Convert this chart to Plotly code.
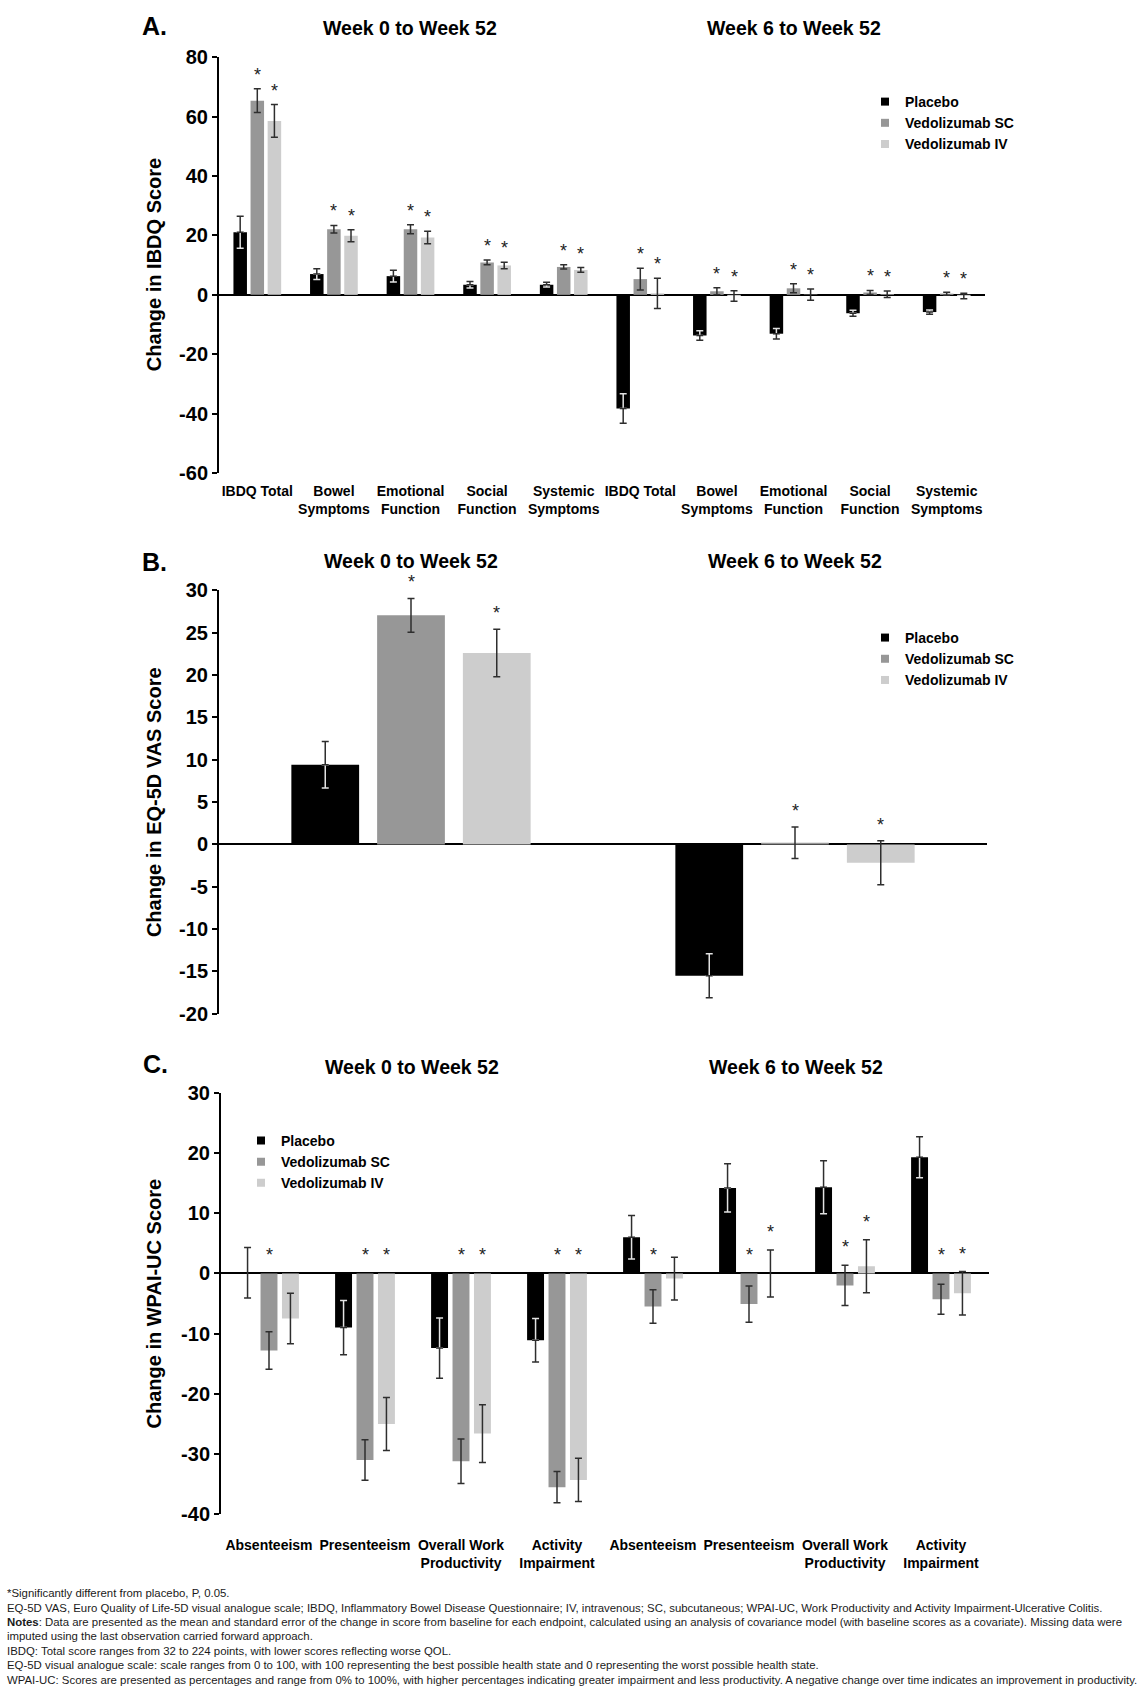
import plotly.graph_objects as go

W, H = 1139, 1695
FONT = "Liberation Sans, Arial, sans-serif"

series_names = ["Placebo", "Vedolizumab SC", "Vedolizumab IV"]
series_colors = ["#000000", "#979797", "#cdcdcd"]
ERR_DARK = "#2e2e2e"
ERR_LIGHT = "#e2e2e2"

# ---------------- Panel A: IBDQ ----------------
cats_A = ["IBDQ Total", "Bowel<br>Symptoms", "Emotional<br>Function", "Social<br>Function", "Systemic<br>Symptoms",
          "IBDQ Total", "Bowel<br>Symptoms", "Emotional<br>Function", "Social<br>Function", "Systemic<br>Symptoms"]
placebo_A = [21.1, 7.0, 6.3, 3.4, 3.4, -38.3, -13.7, -13.1, -6.2, -5.8]
placebo_A_err = [5.4, 1.8, 2.0, 1.1, 0.8, 5.0, 1.6, 1.8, 1.0, 0.7]
sc_A = [65.4, 22.1, 22.1, 10.9, 9.4, 5.3, 1.2, 2.2, 0.8, 0.4]
sc_A_err = [4.0, 1.3, 1.5, 0.8, 0.7, 3.7, 1.2, 1.5, 0.7, 0.5]
iv_A = [58.6, 19.9, 19.3, 9.9, 8.4, 0.5, -0.4, 0.1, 0.2, -0.4]
iv_A_err = [5.5, 2.0, 2.1, 1.1, 0.8, 5.1, 1.8, 1.9, 1.1, 0.9]
star_sc_A = [True] * 10
star_iv_A = [True] * 10
yticks_A = [80, 60, 40, 20, 0, -20, -40, -60]

# ---------------- Panel B: EQ-5D VAS ----------------
cats_B = ["Week 0 to Week 52", "Week 6 to Week 52"]
placebo_B = [9.4, -15.5]
placebo_B_err = [2.75, 2.6]
sc_B = [27.05, 0.2]
sc_B_err = [2.0, 1.85]
iv_B = [22.6, -2.15]
iv_B_err = [2.8, 2.6]
star_sc_B = [True, True]
star_iv_B = [True, True]
yticks_B = [30, 25, 20, 15, 10, 5, 0, -5, -10, -15, -20]

# ---------------- Panel C: WPAI-UC ----------------
cats_C = ["Absenteeism", "Presenteeism", "Overall Work<br>Productivity", "Activity<br>Impairment",
          "Absenteeism", "Presenteeism", "Overall Work<br>Productivity", "Activity<br>Impairment"]
placebo_C = [0.1, -9.0, -12.4, -11.1, 6.0, 14.2, 14.3, 19.3]
placebo_C_err = [4.2, 4.5, 5.0, 3.6, 3.6, 4.0, 4.4, 3.4]
sc_C = [-12.8, -31.0, -31.2, -35.5, -5.5, -5.1, -2.0, -4.3]
sc_C_err = [3.1, 3.35, 3.7, 2.6, 2.8, 3.0, 3.35, 2.5]
iv_C = [-7.5, -25.0, -26.6, -34.3, -0.85, 0.0, 1.2, -3.3]
iv_C_err = [4.2, 4.4, 4.8, 3.6, 3.55, 3.9, 4.4, 3.6]
star_sc_C = [True] * 8
star_iv_C = [False, True, True, True, False, True, True, True]
yticks_C = [30, 20, 10, 0, -10, -20, -30, -40]

period_titles = ["Week 0 to Week 52", "Week 6 to Week 52"]
panel_letters = ["A.", "B.", "C."]
y_titles = ["Change in IBDQ Score", "Change in EQ-5D VAS Score", "Change in WPAI-UC Score"]

footnotes = [
    "*Significantly different from placebo, P, 0.05.",
    "EQ-5D VAS, Euro Quality of Life-5D visual analogue scale; IBDQ, Inflammatory Bowel Disease Questionnaire; IV, intravenous; SC, subcutaneous; WPAI-UC, Work Productivity and Activity Impairment-Ulcerative Colitis.",
    "<b>Notes</b>: Data are presented as the mean and standard error of the change in score from baseline for each endpoint, calculated using an analysis of covariance model (with baseline scores as a covariate). Missing data were",
    "imputed using the last observation carried forward approach.",
    "IBDQ: Total score ranges from 32 to 224 points, with lower scores reflecting worse QOL.",
    "EQ-5D visual analogue scale: scale ranges from 0 to 100, with 100 representing the best possible health state and 0 representing the worst possible health state.",
    "WPAI-UC: Scores are presented as percentages and range from 0% to 100%, with higher percentages indicating greater impairment and less productivity. A negative change over time indicates an improvement in productivity.",
]

BARGAP = 0.33
BARGROUPGAP = 0.21


def fx(px):
    return px / W


def fy(py):
    return 1 - py / H


fig = go.Figure()
annotations = []


def add_panel(idx, n, placebo, placebo_err, sc, sc_err, iv, iv_err, star_sc, star_iv, legend_id, star_shift):
    xa = "x" if idx == 1 else f"x{idx}"
    ya = "y" if idx == 1 else f"y{idx}"
    xs = list(range(n))
    # placebo bar
    fig.add_trace(go.Bar(x=xs, y=placebo, marker=dict(color=series_colors[0], line=dict(width=0)),
                         offsetgroup="P", xaxis=xa, yaxis=ya, showlegend=False, hoverinfo="skip"))
    # error bars of placebo: light part inside the black bar, dark part outside
    light_y, light_p, light_m = [], [], []
    dark_p, dark_m = [], []
    for v, e in zip(placebo, placebo_err):
        if e < abs(v):
            light_y.append(v)
            light_p.append(0 if v > 0 else e)
            light_m.append(e if v > 0 else 0)
            dark_p.append(e if v > 0 else 0)
            dark_m.append(0 if v > 0 else e)
        else:
            light_y.append(None)
            light_p.append(0)
            light_m.append(0)
            dark_p.append(e)
            dark_m.append(e)
    fig.add_trace(go.Bar(x=xs, y=light_y, marker=dict(color="rgba(0,0,0,0)", line=dict(width=0)),
                         offsetgroup="P", xaxis=xa, yaxis=ya, showlegend=False, hoverinfo="skip",
                         error_y=dict(type="data", symmetric=False, array=light_p, arrayminus=light_m,
                                      color=ERR_LIGHT, thickness=1.5, width=3.5)))
    fig.add_trace(go.Bar(x=xs, y=placebo, marker=dict(color="rgba(0,0,0,0)", line=dict(width=0)),
                         offsetgroup="P", xaxis=xa, yaxis=ya, showlegend=False, hoverinfo="skip",
                         error_y=dict(type="data", symmetric=False, array=dark_p, arrayminus=dark_m,
                                      color=ERR_DARK, thickness=1.5, width=3.5)))
    for k, (vals, errs, og) in enumerate([(sc, sc_err, "S"), (iv, iv_err, "I")], start=1):
        fig.add_trace(go.Bar(x=xs, y=vals, marker=dict(color=series_colors[k], line=dict(width=0)),
                             offsetgroup=og, xaxis=xa, yaxis=ya, showlegend=False, hoverinfo="skip",
                             error_y=dict(type="data", array=errs, color=ERR_DARK, thickness=1.5, width=3.5)))
    # legend entries (small square markers)
    for k in range(3):
        fig.add_trace(go.Scatter(x=[None], y=[None], mode="markers", name=series_names[k],
                                 marker=dict(symbol="square", size=8, color=series_colors[k]),
                                 xaxis=xa, yaxis=ya, legend=legend_id, showlegend=True))
    # asterisks
    slot = (1 - BARGAP) / 3
    for k, (vals, errs, stars) in enumerate([(sc, sc_err, star_sc), (iv, iv_err, star_iv)], start=1):
        for i, (v, e, s) in enumerate(zip(vals, errs, stars)):
            if s:
                annotations.append(dict(x=i + (k - 1) * slot, y=max(v + e, 0), xref=xa, yref=ya,
                                        text="*", showarrow=False, yanchor="bottom", yshift=star_shift,
                                        font=dict(family=FONT, size=18, color="#222222")))


add_panel(1, 10, placebo_A, placebo_A_err, sc_A, sc_A_err, iv_A, iv_A_err, star_sc_A, star_iv_A, "legend", 2)
add_panel(2, 2, placebo_B, placebo_B_err, sc_B, sc_B_err, iv_B, iv_B_err, star_sc_B, star_iv_B, "legend2", 4)
add_panel(3, 8, placebo_C, placebo_C_err, sc_C, sc_C_err, iv_C, iv_C_err, star_sc_C, star_iv_C, "legend3", 6)

# geometry of each panel (pixels)
panels = [
    dict(x0=219, x1=985, top=47, bottom=468, rng=[-60, 80], yticks=yticks_A, ticktext=cats_A, n=10, standoff=8),
    dict(x0=219, x1=987, top=587, bottom=1016, rng=[-20, 30], yticks=yticks_B, ticktext=None, n=2, standoff=8),
    dict(x0=221, x1=989, top=1096, bottom=1523, rng=[-40, 30], yticks=yticks_C, ticktext=cats_C, n=8, standoff=21),
]

layout_axes = {}
for j, p in enumerate(panels, start=1):
    xk = "xaxis" if j == 1 else f"xaxis{j}"
    yk = "yaxis" if j == 1 else f"yaxis{j}"
    xa = "x" if j == 1 else f"x{j}"
    ya = "y" if j == 1 else f"y{j}"
    layout_axes[xk] = dict(domain=[fx(p["x0"]), fx(p["x1"])], range=[-0.5, p["n"] - 0.5], anchor=ya,
                           tickmode="array", tickvals=list(range(p["n"])),
                           ticktext=p["ticktext"] if p["ticktext"] else [""] * p["n"],
                           showticklabels=p["ticktext"] is not None,
                           tickangle=0, showline=False, showgrid=False, zeroline=False, ticks="",
                           ticklabelstandoff=p["standoff"],
                           tickfont=dict(family=FONT, size=14, color="black", weight="bold"),
                           fixedrange=True)
    layout_axes[yk] = dict(domain=[fy(p["bottom"]), fy(p["top"])], range=p["rng"], anchor=xa,
                           tickmode="array", tickvals=p["yticks"], ticktext=[str(t) for t in p["yticks"]],
                           showline=True, linecolor="black", linewidth=2,
                           ticks="outside", ticklen=5, tickwidth=2, tickcolor="black",
                           tickfont=dict(family=FONT, size=20, color="black", weight="bold"),
                           zeroline=True, zerolinecolor="black", zerolinewidth=2,
                           showgrid=False, fixedrange=True)
    # y-axis title
    annotations.append(dict(x=fx(154), y=fy((p["top"] + p["bottom"]) / 2), xref="paper", yref="paper",
                            text=y_titles[j - 1], textangle=-90, showarrow=False,
                            xanchor="center", yanchor="middle",
                            font=dict(family=FONT, size=20, color="black", weight="bold")))

# panel letters and period headings
letter_pos = [(140, 15), (140, 558), (141, 1067)]
heading_pos = [((410, 17), (794, 17)), ((411, 557), (795, 557)), ((412, 1070), (796, 1070))]
for j in range(3):
    lx, ly = letter_pos[j]
    annotations.append(dict(x=fx(lx), y=fy(ly), xref="paper", yref="paper", text=panel_letters[j],
                            showarrow=False, xanchor="left", yanchor="middle",
                            font=dict(family=FONT, size=25, color="black", weight="bold")))
    for (hx, hy), t in zip(heading_pos[j], period_titles):
        annotations.append(dict(x=fx(hx), y=fy(hy), xref="paper", yref="paper", text=t,
                                showarrow=False, xanchor="center", yanchor="middle",
                                font=dict(family=FONT, size=19.5, color="black", weight="bold")))

# footnotes
for i, line in enumerate(footnotes):
    annotations.append(dict(x=fx(5), y=fy(1603 + i * 14.6), xref="paper", yref="paper", text=line,
                            showarrow=False, xanchor="left", yanchor="middle",
                            font=dict(family=FONT, size=11.4, color="#1a1a1a")))

legend_common = dict(bgcolor="rgba(0,0,0,0)", borderwidth=0, xanchor="left", yanchor="top",
                     font=dict(family=FONT, size=14, color="black", weight="bold"),
                     itemclick=False, itemdoubleclick=False, tracegroupgap=0)

fig.update_layout(
    width=W, height=H,
    margin=dict(l=0, r=0, t=0, b=0),
    paper_bgcolor="white", plot_bgcolor="white",
    barmode="group", bargap=BARGAP, bargroupgap=BARGROUPGAP,
    font=dict(family=FONT, color="black"),
    annotations=annotations,
    legend=dict(x=fx(865), y=fy(76), **legend_common),
    legend2=dict(x=fx(865), y=fy(619), **legend_common),
    legend3=dict(x=fx(241), y=fy(1128.5), **legend_common),
    **layout_axes,
)

fig.write_html("out.html", config={"displayModeBar": False, "staticPlot": True},
               post_script="document.body.style.margin='0px';document.body.style.padding='0px';")
